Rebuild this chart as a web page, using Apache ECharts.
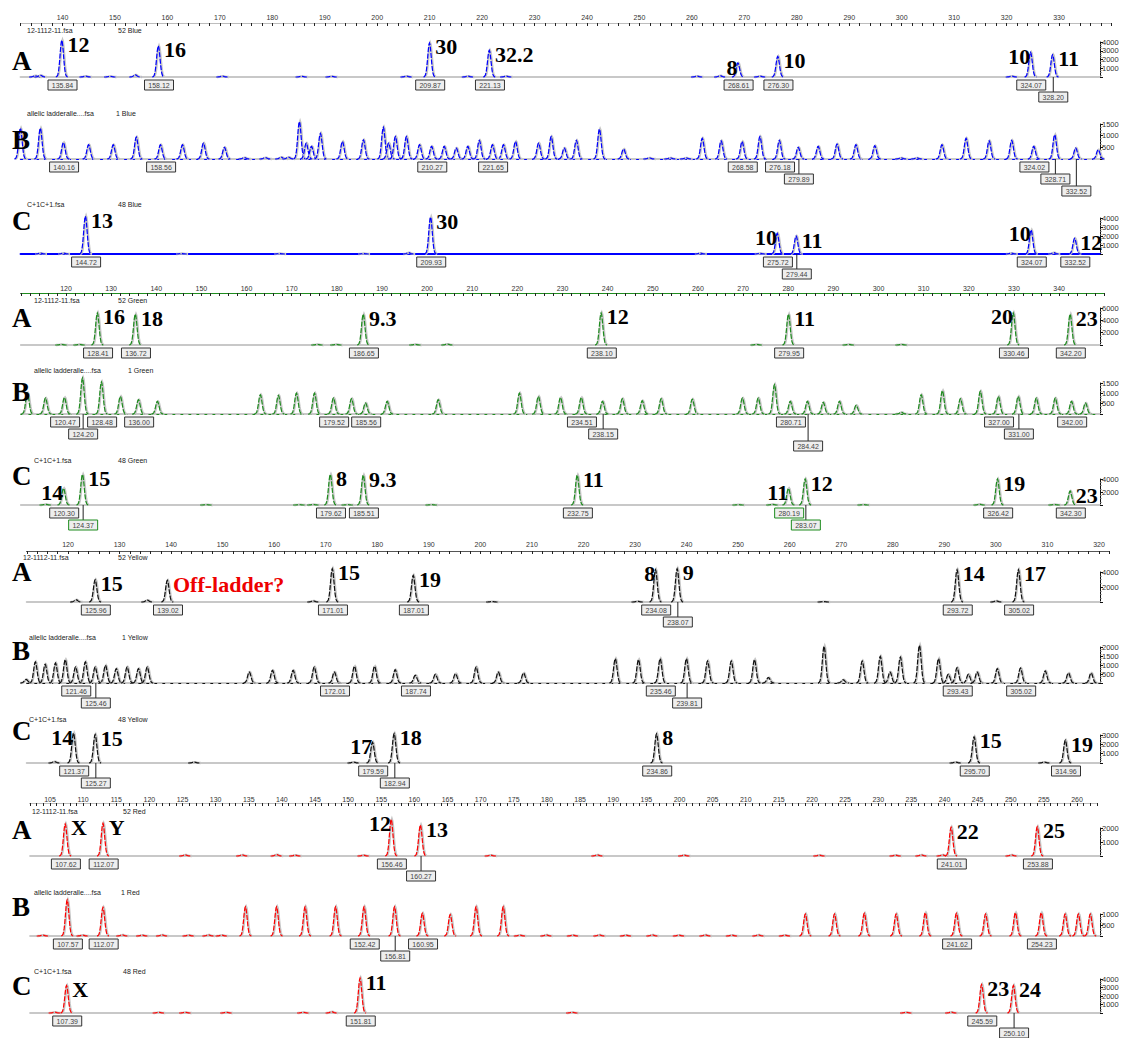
<!DOCTYPE html>
<html><head><meta charset="utf-8">
<script src="https://cdn.jsdelivr.net/npm/echarts@6/dist/echarts.min.js"></script>
<style>html,body{margin:0;padding:0;background:#fff}#c{width:1127px;height:1038px}</style>
</head><body><div id="c"></div><script>
// ---------- tick labels ----------
const BLUE_TICK_LABELS = [140,150,160,170,180,190,200,210,220,230,240,250,260,270,280,290,300,310,320,330];
const GREEN_TICK_LABELS = [120,130,140,150,160,170,180,190,200,210,220,230,240,250,260,270,280,290,300,310,320,330,340];
const YELLOW_TICK_LABELS = [120,130,140,150,160,170,180,190,200,210,220,230,240,250,260,270,280,290,300,310,320];
const RED_TICK_LABELS = [105,110,115,120,125,130,135,140,145,150,155,160,165,170,175,180,185,190,195,200,205,210,215,220,225,230,235,240,245,250,255,260];

// ---------- headers ----------
const BLUE_HEADERS = [['12-1112-11.fsa','52 Blue'],['allelic ladderalle....fsa','1 Blue'],['C+1C+1.fsa','48 Blue']];
const GREEN_HEADERS = [['12-1112-11.fsa','52 Green'],['allelic ladderalle....fsa','1 Green'],['C+1C+1.fsa','48 Green']];
const YELLOW_HEADERS = [['12-1112-11.fsa','52 Yellow'],['allelic ladderalle....fsa','1 Yellow'],['C+1C+1.fsa','48 Yellow']];
const RED_HEADERS = [['12-1112-11.fsa','52 Red'],['allelic ladderalle....fsa','1 Red'],['C+1C+1.fsa','48 Red']];
const TRACE_LETTERS = ['A','B','C'];

// ---------- peaks: [size, height] ; calls: [size, height, allele, size call] ----------
const BLUE_A_PEAKS = [[134.9,150],[135.9,200],[144.5,100],[149.2,80],[154.0,250],[170.6,100],[185.7,80],[191.4,80],[205.7,100],[217.4,100],[224.7,100],[261.1,100],[265.5,150],[273.1,100],[321.1,100]];
const BLUE_A_CALLS = [[140.0,4200,'12','135.84'],[158.4,3560,'16','158.12'],[210.1,3890,'30','209.87'],[221.5,3050,'32.2','221.13'],[268.9,1600,'8','268.61'],[276.5,2360,'10','276.30'],[324.7,2820,'10','324.07'],[328.9,2550,'11','328.20']];
const BLUE_B_PEAKS = [[132.1,1320],[135.9,1320],[145.1,610],[149.8,610],[154.2,940],[163.0,610],[167.0,680],[171.0,500],[174.8,60],[178.8,60],[181.8,80],[183.2,80],[185.3,1600],[186.6,680],[187.6,540],[189.3,1100],[193.5,750],[197.5,820],[201.3,1360],[202.3,680],[203.6,960],[205.7,960],[208.2,610],[212.9,540],[215.2,470],[217.4,540],[219.6,800],[224.2,610],[226.5,750],[230.9,680],[233.3,960],[235.8,470],[238.1,800],[242.5,1280],[247.1,430],[252.0,50],[256.0,50],[259.0,50],[262.1,890],[265.7,780],[273.1,960],[284.2,540],[287.8,640],[291.4,610],[295.0,570],[300.0,50],[303.0,50],[307.8,610],[312.4,890],[316.8,780],[321.1,800],[337.6,400]];
const BLUE_B_CALLS = [[140.3,710,'','140.16'],[158.8,610,'','158.56'],[210.5,540,'','210.27'],[222.1,610,'','221.65'],[269.7,750,'','268.58'],[276.8,800,'','276.18'],[280.4,500,'','279.89'],[325.3,540,'','324.02'],[329.3,1040,'','328.71'],[333.3,470,'','332.52']];
const BLUE_C_PEAKS = [[135.9,100],[140.3,100],[162.8,60],[181.5,60],[197.5,60],[206.1,150],[261.7,100],[273.1,80],[321.0,100],[329.1,150]];
const BLUE_C_CALLS = [[144.5,4200,'13','144.72'],[210.3,4100,'30','209.93'],[276.4,2300,'10','275.72'],[280.0,2000,'11','279.44'],[324.8,2670,'10','324.07'],[333.1,1740,'12','332.52']];

const GREEN_A_PEAKS = [[119.1,100],[123.1,100],[175.8,100],[180.0,100],[197.5,100],[204.6,150],[273.1,100],[293.5,100],[305.2,100]];
const GREEN_A_CALLS = [[127.1,5200,'16','128.41'],[135.5,5000,'18','136.72'],[186.0,5000,'9.3','186.65'],[238.7,5200,'12','238.10'],[280.2,5000,'11','279.95'],[330.0,5200,'20','330.46'],[342.6,5000,'23','342.20']];
const GREEN_B_PEAKS = [[111.6,1010],[115.6,770],[132.2,850],[140.4,610],[163.2,930],[167.2,900],[171.2,1010],[175.2,1010],[183.4,740],[191.3,610],[202.6,690],[220.6,1010],[224.8,850],[229.7,800],[243.4,740],[247.8,640],[252.0,740],[258.9,720],[270.0,770],[273.5,770],[277.1,1420],[287.9,560],[291.5,610],[295.2,420],[305.2,80],[309.6,930],[314.3,1130],[318.3,740],[322.7,1100],[335.1,770],[339.3,770],[346.0,530]];
const GREEN_B_CALLS = [[119.8,800,'','120.47'],[123.8,1740,'','124.20'],[128.0,1550,'','128.48'],[136.2,690,'','136.00'],[179.4,770,'','179.52'],[186.5,530,'','185.56'],[234.3,800,'','234.51'],[239.0,610,'','238.15'],[280.6,610,'','280.71'],[284.4,610,'','284.42'],[326.7,850,'','327.00'],[331.1,850,'','331.00'],[342.9,610,'','342.00']];
const GREEN_C_PEAKS = [[115.6,100],[151.2,60],[171.8,60],[174.9,80],[182.5,60],[201.1,60],[269.1,60],[276.6,100],[296.8,60],[322.5,120],[339.1,80]];
const GREEN_C_CALLS = [[119.6,2560,'14','120.30'],[123.8,4700,'15','124.37'],[178.7,4700,'8','179.62'],[186.0,4600,'9.3','185.51'],[233.4,4600,'11','232.75'],[280.2,2560,'11','280.19'],[283.9,4000,'12','283.07'],[326.5,4000,'19','326.42'],[342.6,2150,'23','342.30']];

const YELLOW_A_PEAKS = [[121.7,300],[135.5,250],[167.7,150],[202.4,60],[230.6,100],[266.7,60],[300.2,150]];
const YELLOW_A_CALLS = [[125.4,2970,'15','125.96'],[139.4,2890,'Off-ladder?','139.02'],[171.4,4440,'15','171.01'],[187.1,3550,'19','187.01'],[234.1,4300,'8','234.08'],[238.3,4440,'9','238.07'],[292.6,4300,'14','293.72'],[304.5,4300,'17','305.02']];
const YELLOW_B_PEAKS = [[112.0,200],[113.8,1170],[115.7,1040],[117.7,1110],[119.6,1300],[123.5,1170],[127.4,980],[129.5,800],[131.6,890],[133.8,800],[135.5,890],[155.3,610],[159.8,700],[163.8,700],[167.9,890],[175.7,930],[179.6,930],[183.6,740],[191.4,480],[195.3,520],[199.3,890],[203.6,610],[208.5,560],[226.3,1350],[230.8,1300],[244.2,1220],[248.8,1220],[253.3,1300],[256.0,300],[266.8,2040],[270.5,180],[274.2,1220],[277.7,1480],[279.6,610],[281.6,1440],[285.3,2090],[289.0,1350],[290.9,480],[294.8,480],[296.5,610],[300.4,800],[309.7,670],[314.2,560],[318.6,560]];
const YELLOW_B_CALLS = [[121.6,890,'','121.46'],[125.4,890,'','125.46'],[171.8,610,'','172.01'],[187.5,430,'','187.74'],[235.0,1350,'','235.46'],[240.1,1350,'','239.81'],[292.6,850,'','293.43'],[304.9,830,'','305.02']];
const YELLOW_C_PEAKS = [[117.5,150],[144.6,100],[175.5,100],[292.3,100],[309.5,100]];
const YELLOW_C_CALLS = [[121.2,3200,'14','121.37'],[125.4,3050,'15','125.27'],[179.2,2220,'17','179.59'],[183.4,3150,'18','182.94'],[234.3,3120,'8','234.86'],[295.9,2800,'15','295.70'],[313.6,2440,'19','314.96']];

const RED_A_PEAKS = [[125.5,80],[134.1,80],[139.3,100],[142.1,60],[152.4,60],[171.6,60],[187.7,80],[200.8,60],[221.2,60],[232.7,60],[236.6,80],[239.8,80],[250.2,80]];
const RED_A_CALLS = [[107.4,2290,'X','107.62'],[113.1,2330,'Y','112.07'],[156.6,2620,'12','156.46'],[161.0,2210,'13','160.27'],[241.1,2050,'22','241.01'],[254.1,2090,'25','253.88']];
const RED_B_PEAKS = [[104,40],[110,40],[116,50],[119,40],[122,50],[126,40],[129,50],[131,40],[134.6,1330],[139.3,1330],[143.6,1330],[148.2,1330],[165.5,980],[169.4,1330],[173.5,1330],[176,40],[180,50],[184,40],[188,50],[192,40],[196,50],[200,40],[204,50],[208,40],[212,50],[216,40],[219.1,1000],[223.5,1000],[228.0,1030],[232.8,1000],[237.2,1060],[246.3,1000],[250.8,1060],[258.3,1000],[260.3,1000],[262.1,1000]];
const RED_B_CALLS = [[107.7,1640,'','107.57'],[113.1,1300,'','112.07'],[152.5,1330,'','152.42'],[157.1,1330,'','156.81'],[161.3,1030,'','160.95'],[241.9,1030,'','241.62'],[254.7,1060,'','254.23']];
const RED_C_PEAKS = [[105.8,100],[121.5,80],[125.5,80],[131.7,80],[143.3,80],[147.6,150],[183.9,80],[234.3,80],[241.1,100]];
const RED_C_CALLS = [[107.6,3240,'X','107.39'],[151.9,4110,'11','151.81'],[245.7,3350,'23','245.59'],[250.5,3240,'24','250.10']];

// ---------- layout / style config ----------
const RIGHT_EDGE = 1100;
const SIG = 1.7;
const PANELS = [
  {color:'#0000ff', cal:{v:140,px:62.5,k:5.245}, min:132, topMax:340, tick:2, labels:BLUE_TICK_LABELS, headers:BLUE_HEADERS,
   axisTop:10, axisH:13, lowerColor:'#bdbdbd',
   traces:[
    {peaks:BLUE_A_PEAKS, calls:BLUE_A_CALLS, top:42, bottom:77, yMax:4000, yInt:1000, side:'RRRRLRLR', level:'11111112', letterY:61, headY:30, hx:[27,118]},
    {peaks:BLUE_B_PEAKS, calls:BLUE_B_CALLS, top:124, bottom:159, yMax:1500, yInt:500, side:'', level:'1111112123', letterY:140, headY:113, hx:[27,116], dash:true},
    {peaks:BLUE_C_PEAKS, calls:BLUE_C_CALLS, top:218, bottom:254, yMax:4000, yInt:1000, side:'RRLRLR', level:'111211', letterY:221, headY:204, hx:[27,118], baseColor:'#0000ff', lift:'000000'}
   ]},
  {color:'#1e8c1e', cal:{v:120,px:66,k:4.514}, min:110, topMax:350, tick:2, labels:GREEN_TICK_LABELS, headers:GREEN_HEADERS,
   axisTop:281, axisH:12, lowerColor:'#1e8c1e',
   traces:[
    {peaks:GREEN_A_PEAKS, calls:GREEN_A_CALLS, top:308, bottom:345, yMax:6000, yInt:2000, side:'RRRRRLR', level:'1111111', letterY:318, headY:300, hx:[34,118]},
    {peaks:GREEN_B_PEAKS, calls:GREEN_B_CALLS, top:383, bottom:414, yMax:1500, yInt:500, side:'', level:'1211111213121', letterY:392, headY:370, hx:[34,128], dash:true},
    {peaks:GREEN_C_PEAKS, calls:GREEN_C_CALLS, top:479, bottom:505, yMax:4000, yInt:2000, side:'LRRRRLRRR', level:'121111211', border:'kgkkkggkk', letterY:476, headY:460, hx:[34,118]}
   ]},
  {color:'#111111', cal:{v:120,px:68,k:5.155}, min:112, topMax:322, tick:2, labels:YELLOW_TICK_LABELS, headers:YELLOW_HEADERS,
   axisTop:537, axisH:14, lowerColor:'#555555',
   traces:[
    {peaks:YELLOW_A_PEAKS, calls:YELLOW_A_CALLS, top:572, bottom:602, yMax:4000, yInt:2000, side:'RRRRLRRR', level:'11111211', tcolor:'krkkkkkk', letterY:572, headY:557, hx:[23,118]},
    {peaks:YELLOW_B_PEAKS, calls:YELLOW_B_CALLS, top:647, bottom:683, yMax:2000, yInt:500, side:'', level:'12111211', letterY:651, headY:637, hx:[29,122], dash:true},
    {peaks:YELLOW_C_PEAKS, calls:YELLOW_C_CALLS, top:735, bottom:763, yMax:3000, yInt:1000, side:'LRLRRRR', level:'1212111', letterY:731, headY:719, hx:[29,118]}
   ]},
  {color:'#ff0000', cal:{v:105,px:50,k:6.626}, min:102, topMax:263, tick:1, labels:RED_TICK_LABELS, headers:RED_HEADERS,
   axisTop:792, axisH:11, lowerColor:'#bdbdbd',
   traces:[
    {peaks:RED_A_PEAKS, calls:RED_A_CALLS, top:828, bottom:856, yMax:2000, yInt:1000, side:'RRLRRR', level:'111211', letterY:830, headY:811, hx:[32,123]},
    {peaks:RED_B_PEAKS, calls:RED_B_CALLS, top:914, bottom:936, yMax:1000, yInt:500, side:'', level:'1112111', letterY:907, headY:892, hx:[34,121]},
    {peaks:RED_C_PEAKS, calls:RED_C_CALLS, top:979, bottom:1013, yMax:4000, yInt:1000, side:'RRRR', level:'1112', letterY:986, headY:971, hx:[34,123]}
   ]}
];

function makeRender(color, calls, tr, panelColor) {
  return function (params, api) {
    const x = api.value(0), h = api.value(1);
    const b = api.coord([x, 0]), t = api.coord([x, h]);
    const H = b[1] - t[1];
    const pts = [];
    for (let i = -12; i <= 12; i++) {
      const dx = i * 0.5;
      pts.push([b[0] + dx, b[1] - H * Math.exp(-dx * dx / (2 * SIG * SIG))]);
    }
    const ptsC = pts.map(p => [p[0] - 0.7, p[1]]);
    const children = [
      {type:'polyline', shape:{points:pts}, style:{stroke:'#c6c6c6', lineWidth:2.3, fill:null}},
      {type:'polyline', shape:{points:ptsC}, style:{stroke:color, lineWidth:1.2, fill:null, lineDash:[5,1.5]}}
    ];
    if (calls) {
      const i = params.dataIndex;
      const c = calls[i];
      const lvl = +(tr.level[i] || 1);
      const bw = 29, bh = 10;
      const by = b[1] + 3 + (lvl - 1) * 12;
      const border = tr.border && tr.border[i] === 'g' ? panelColor : '#333333';
      if (lvl > 1) children.push({type:'line', shape:{x1:b[0], y1:b[1], x2:b[0], y2:by}, style:{stroke:'#222', lineWidth:1}});
      children.push({type:'rect', shape:{x:b[0]-bw/2, y:by, width:bw, height:bh}, style:{fill:'#eeeeee', stroke:border, lineWidth:1}});
      children.push({type:'text', x:b[0], y:by+bh/2+0.5, style:{text:c[3], fill:'#444', font:'7px "Liberation Sans"', align:'center', verticalAlign:'middle'}});
      if (c[2]) {
        const left = tr.side[i] === 'L';
        const col = tr.tcolor && tr.tcolor[i] === 'r' ? '#ee0000' : '#000000';
        children.push({type:'text', x: left ? t[0]-1 : t[0]+5, y: t[1]+4,
          style:{text:c[2], fill:col, font:'bold 22px "Liberation Serif"', align: left ? 'right' : 'left', verticalAlign:'middle'}});
      }
    }
    return {type:'group', children};
  };
}

const grids = [], xAxes = [], yAxes = [], series = [], graphics = [];
PANELS.forEach(p => {
  const px = v => p.cal.px + (v - p.cal.v) * p.cal.k;
  const left = px(p.min);
  const gi = grids.length;
  grids.push({left:left, top:p.axisTop, width:px(p.topMax)-left, height:p.axisH});
  xAxes.push({gridIndex:gi, type:'value', position:'top', min:p.min, max:p.topMax, interval:p.tick,
    axisLine:{lineStyle:{color:'#222', width:1}}, axisTick:{inside:true, length:3, lineStyle:{color:'#222'}},
    axisLabel:{inside:true, margin:4, fontSize:7, color:'#333', fontFamily:'Liberation Sans',
      formatter: v => p.labels.includes(Math.round(v)) ? String(Math.round(v)) : ''},
    splitLine:{show:false}});
  xAxes.push({gridIndex:gi, type:'value', position:'bottom', min:p.min, max:p.topMax,
    axisLine:{lineStyle:{color:p.lowerColor, width:1}}, axisTick:{show:false}, axisLabel:{show:false}, splitLine:{show:false}});
  yAxes.push({gridIndex:gi, type:'value', show:false});

  p.traces.forEach((tr, ti) => {
    const g = grids.length;
    const tmax = p.cal.v + (RIGHT_EDGE - p.cal.px) / p.cal.k;
    grids.push({left:left, top:tr.top, width:RIGHT_EDGE-left, height:tr.bottom-tr.top});
    const xi = xAxes.length;
    xAxes.push({gridIndex:g, type:'value', position:'bottom', min:p.min, max:tmax,
      axisLine:{onZero:false, lineStyle:{color:tr.baseColor || '#c8c8c8', width:2}},
      axisTick:{show:false}, axisLabel:{show:false}, splitLine:{show:false}});
    if (tr.dash) {
      xAxes.push({gridIndex:g, type:'value', position:'bottom', min:p.min, max:tmax,
        axisLine:{onZero:false, lineStyle:{color:p.color, width:1, type:[2,6]}},
        axisTick:{show:false}, axisLabel:{show:false}, splitLine:{show:false}});
    }
    const yi = yAxes.length;
    yAxes.push({gridIndex:g, type:'value', position:'right', min:0, max:tr.yMax, interval:tr.yInt,
      axisLine:{show:true, lineStyle:{color:'#111', width:1}},
      axisTick:{show:true, length:3, lineStyle:{color:'#111'}},
      minorTick:{show:true, splitNumber:4, length:1.5, lineStyle:{color:'#666'}},
      axisLabel:{show:true, fontSize:7.5, color:'#333', margin:2, showMinLabel:false, fontFamily:'Liberation Sans', formatter: v => String(v)},
      splitLine:{show:false}});
    series.push({type:'custom', xAxisIndex:xi, yAxisIndex:yi, data:tr.peaks, clip:false, silent:true,
      renderItem: makeRender(p.color, null, tr, p.color), z:3});
    series.push({type:'custom', xAxisIndex:xi, yAxisIndex:yi, data:tr.calls.map(c => [c[0], c[1]]), clip:false, silent:true,
      renderItem: makeRender(p.color, tr.calls, tr, p.color), z:4});
    graphics.push({type:'text', x:12, y:tr.letterY, z:10,
      style:{text:TRACE_LETTERS[ti], font:'bold 27px "Liberation Serif"', fill:'#000', verticalAlign:'middle'}});
    graphics.push({type:'text', x:tr.hx[0], y:tr.headY,
      style:{text:p.headers[ti][0], font:'7px "Liberation Sans"', fill:'#222', verticalAlign:'middle'}});
    graphics.push({type:'text', x:tr.hx[1], y:tr.headY,
      style:{text:p.headers[ti][1], font:'7px "Liberation Sans"', fill:'#222', verticalAlign:'middle'}});
  });
});

const chart = echarts.init(document.getElementById('c'), null, {renderer:'svg', width:1127, height:1038});
chart.setOption({
  animation:false,
  backgroundColor:'#ffffff',
  grid:grids, xAxis:xAxes, yAxis:yAxes, series:series, graphic:graphics
});
</script></body></html>
